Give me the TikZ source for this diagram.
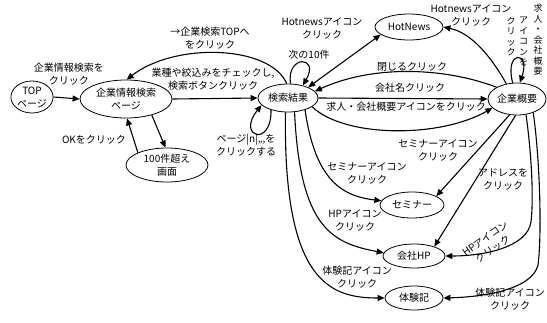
\documentclass[tikz,border=0pt]{standalone}
\usepackage{fontspec}
\setmainfont{Noto Sans CJK JP}
\usetikzlibrary{shapes.geometric,arrows.meta}
\begin{document}
\begin{tikzpicture}[x=1pt,y=-1pt,
  font=\fontsize{10}{13}\selectfont,
  ell/.style={draw, ellipse, line width=0.8pt, inner sep=0pt, align=center},
  arr/.style={line width=1.1pt, -{Triangle[length=7pt,width=6pt]}},
  darr/.style={line width=1.1pt, {Triangle[length=7pt,width=6pt]}-{Triangle[length=7pt,width=6pt]}},
  lbl/.style={align=center, inner sep=0pt},
  vcol/.style={align=center, inner sep=0pt, font=\fontsize{9}{10.5}\selectfont}]
\useasboundingbox (0,0) rectangle (547,322);

% nodes
\node[ell, minimum width=42pt, minimum height=32pt] (top) at (32,97) {TOP\\ページ};
\node[ell, minimum width=92pt, minimum height=38pt] (kjs) at (126,99) {企業情報検索\\ページ};
\node[ell, minimum width=82pt, minimum height=34pt] (h100) at (167,165) {100件超え\\画面};
\node[ell, minimum width=60pt, minimum height=28pt] (kk) at (288,98) {検索結果};
\node[ell, minimum width=58pt, minimum height=32pt] (kg) at (517,99) {企業概要};
\node[ell, minimum width=68pt, minimum height=26pt] (hn) at (409,27) {HotNews};
\node[ell, minimum width=64pt, minimum height=26pt] (sm) at (412,205) {セミナー};
\node[ell, minimum width=62pt, minimum height=24pt] (hp) at (414,256) {会社HP};
\node[ell, minimum width=58pt, minimum height=24pt] (tx) at (414,298) {体験記};

% left part
\draw[arr] (top.east) -- (kjs.west);
\node[lbl] (l1) at (69,74) {企業情報検索を\\クリック};
\draw[arr] (kjs.east) -- (kk.west);
\node[lbl] (l2) at (213,79) {業種や絞込みをチェックし,\\検索ボタンクリック};
\draw[arr] (kk.95) .. controls (270,45) and (175,42) .. (kjs.88);
\node[lbl] (l3) at (210,38) {→企業検索TOPへ\\をクリック};
\draw[arr] (kjs.-32) -- (h100.95);
\draw[arr] (h100.157) -- (kjs.-87);
\node[lbl] (l4) at (94,140) {OKをクリック};

% loops on 検索結果
\draw[arr] (kk.215) .. controls (272,148) and (236,137) .. (kk.195);
\node[lbl] (l5) at (246,145) {ページ|n|,,,を\\クリックする};
\draw[arr] (kk.80) .. controls (286,55) and (320,55) .. (kk.40);
\node[lbl] (l6) at (309,55) {次の10件};

% HotNews
\draw[darr] (kk.28) -- (hn.195);
\node[lbl] (l7) at (322,28) {Hotnewsアイコン\\クリック};
\draw[arr] (kg.125) .. controls (492,58) and (472,33) .. (hn.east);
\node[lbl] (l8) at (471,15) {Hotnewsアイコン\\クリック};

% loop on 企業概要
\draw[arr] (kg.105) .. controls (504,50) and (531,50) .. (kg.80);
\node[vcol, anchor=north] (v1) at (538,4) {求\\人\\・\\会\\社\\概\\要};
\node[vcol, anchor=north] (v2) at (523.5,17) {ア\\イ\\コ\\ン\\を};
\node[vcol, anchor=north] (v3) at (511,17) {ク\\リ\\ッ\\ク};

% between 検索結果 and 企業概要
\draw[arr] (kg.150) .. controls (440,66) and (370,66) .. (kk.14);
\node[lbl] (l9) at (412,67) {閉じるクリック};
\draw[arr] (kk.east) -- (kg.west);
\node[lbl] (l10) at (410,88) {会社名クリック};
\draw[arr] (kk.-20) .. controls (345,138) and (440,138) .. (kg.200);
\node[lbl] (l11) at (406,107) {求人・会社概要アイコンをクリック};

% from 検索結果 downwards
\draw[arr] (kk.-35) .. controls (315,178) and (340,196) .. (sm.172);
\node[lbl] (l12) at (367,173) {セミナーアイコン\\クリック};
\draw[arr] (kk.-65) .. controls (300,228) and (332,243) .. (hp.174);
\node[lbl] (l13) at (355,220) {HPアイコン\\クリック};
\draw[arr] (kk.-100) .. controls (283,282) and (330,298) .. (tx.west);
\node[lbl] (l14) at (357,277) {体験記アイコン\\クリック};

% from 企業概要 downwards
\draw[arr] (kg.-115) -- (sm.20);
\node[lbl] (l15) at (438,150) {セミナーアイコン\\クリック};
\draw[arr] (kg.-95) -- (hp.25);
\node[lbl] (l16) at (503,179) {アドレスを\\クリック};
\draw[arr] (kg.-60) .. controls (531,150) and (534,195) .. (531,222)
  .. controls (527,248) and (482,256) .. (hp.east);
\node[lbl, rotate=35] (l17) at (489,244) {HPアイコン\\クリック};
\draw[arr] (kg.-40) .. controls (540,160) and (542,235) .. (538,265)
  .. controls (532,290) and (482,297) .. (tx.east);
\node[lbl] (l18) at (510,299) {体験記アイコン\\クリック};
\end{tikzpicture}
\end{document}
